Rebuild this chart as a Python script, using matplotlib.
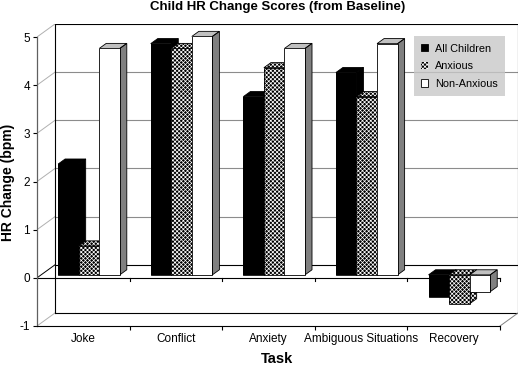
import matplotlib
matplotlib.use("Agg")
import matplotlib.pyplot as plt
from matplotlib.patches import Polygon, Patch

tasks = ["Joke", "Conflict", "Anxiety", "Ambiguous Situations", "Recovery"]
series = ["All Children", "Anxious", "Non-Anxious"]
all_children = [2.3, 4.8, 3.7, 4.2, -0.45]
anxious = [0.6, 4.7, 4.3, 3.7, -0.6]
non_anxious = [4.7, 4.95, 4.7, 4.8, -0.35]
y_ticks = [-1, 0, 1, 2, 3, 4, 5]

plt.rcParams['font.family'] = ['Liberation Sans', 'DejaVu Sans']
plt.rcParams['hatch.linewidth'] = 0.5

# fake 3D: depth of the box and where the bars sit in it (data units)
DX, DY = 0.194, 0.27
F0, F1 = 0.23, 0.62
W = 0.222
START = -0.272 - F0 * DX
HATCH = 'xxxxxxxx'

styles = [
    dict(face='black', side='black', top='black', hatch=None),
    dict(face='black', side='black', top='black', hatch=HATCH),
    dict(face='white', side='#808080', top='#c0c0c0', hatch=None),
]
values = [all_children, anxious, non_anxious]

n = len(tasks)
x_lo, x_hi = -0.5, n - 0.5
y_lo, y_hi = y_ticks[0], y_ticks[-1]

fig = plt.figure(figsize=(5.19, 3.65), dpi=100)
ax = fig.add_axes([37 / 519, 39 / 365, 481 / 519, 302 / 365])
ax.set_xlim(x_lo, x_hi + DX)
ax.set_ylim(y_lo, y_hi + DY)

# back wall gridlines
for v in y_ticks:
    col = 'black' if v in (0, y_lo, y_hi) else '#8c8c8c'
    ax.plot([x_lo + DX, x_hi + DX], [v + DY, v + DY], color=col, lw=0.8, zorder=1)
    # side wall lines
    ax.plot([x_lo, x_lo + DX], [v, v + DY], color='#b0b0b0' if v != 0 else 'black',
            lw=0.7, zorder=1)
ax.plot([x_lo + DX, x_lo + DX], [y_lo + DY, y_hi + DY], color='black', lw=0.8, zorder=1)
ax.plot([x_hi + DX, x_hi + DX], [y_lo + DY, y_hi + DY], color='black', lw=0.8, zorder=1)
ax.plot([x_hi, x_hi + DX], [y_lo, y_lo + DY], color='#808080', lw=0.7, zorder=1)

# front zero line with ticks
ax.plot([x_lo, x_hi], [0, 0], color='black', lw=0.8, zorder=2)
for b in range(1, n + 1):
    ax.plot([b - 0.5, b - 0.5], [0, -0.07], color='black', lw=0.8, zorder=2)


def bar3d(x0, v, st, z):
    x1 = x0 + W
    a0, b0 = F0 * DX, F0 * DY
    a1, b1 = F1 * DX, F1 * DY
    t = max(v, 0)
    side = [(x1 + a0, b0), (x1 + a1, b1), (x1 + a1, v + b1), (x1 + a0, v + b0)]
    top = [(x0 + a0, t + b0), (x0 + a1, t + b1), (x1 + a1, t + b1), (x1 + a0, t + b0)]
    for pts, col in [(side, st['side']), (top, st['top'])]:
        ax.add_patch(Polygon(pts, closed=True, facecolor=col, edgecolor='white',
                             hatch=st['hatch'], lw=0, zorder=z))
        ax.add_patch(Polygon(pts, closed=True, fill=False, edgecolor='black',
                             lw=0.6, zorder=z + 0.01))
    ax.bar(x0 + a0, v, width=W, bottom=b0, align='edge', color=st['face'],
           edgecolor='white', hatch=st['hatch'], lw=0, zorder=z + 0.02)
    ax.bar(x0 + a0, v, width=W, bottom=b0, align='edge', fill=False,
           edgecolor='black', lw=0.6, zorder=z + 0.03)


for i in range(n):
    for k, (vals, st) in enumerate(zip(values, styles)):
        bar3d(i + START + k * W, vals[i], st, 3 + k * 0.1)

# axes
for s in ['top', 'right']:
    ax.spines[s].set_visible(False)
ax.spines['left'].set_bounds(y_lo, y_hi)
ax.spines['left'].set_color('#606060')
ax.spines['bottom'].set_bounds(x_lo, x_hi)
ax.spines['left'].set_linewidth(0.9)
ax.spines['bottom'].set_linewidth(0.8)
ax.set_yticks(y_ticks)
ax.set_yticklabels([str(v) for v in y_ticks])
ax.set_xticks([b + 0.5 for b in range(n)])
ax.set_xticklabels([])
ax.set_xticks(range(n), minor=True)
ax.set_xticklabels(tasks, minor=True)
ax.tick_params(axis='both', which='major', length=3, width=0.8, labelsize=8.5, pad=2)
ax.tick_params(axis='x', which='minor', length=0, labelsize=8.5, pad=5)

fig.text(277.5 / 519, 1 - 7 / 365, "Child HR Change Scores (from Baseline)",
         ha='center', va='center', fontsize=9.5, fontweight='bold')
fig.text(8 / 519, 1 - 182 / 365, "HR Change (bpm)", rotation=90,
         ha='center', va='center', fontsize=10, fontweight='bold')
fig.text(277 / 519, 1 - 359 / 365, "Task", ha='center', va='center',
         fontsize=10.5, fontweight='bold')

handles = [Patch(facecolor='black', edgecolor='black', lw=0.6),
           Patch(facecolor='black', edgecolor='white', hatch=HATCH, lw=0),
           Patch(facecolor='white', edgecolor='black', lw=0.6)]
leg = ax.legend(handles, series, loc='upper right', bbox_to_anchor=(0.973, 0.960),
                borderaxespad=0, fontsize=7.8, frameon=True, fancybox=False,
                handlelength=0.65, handleheight=0.65, handletextpad=0.6,
                labelspacing=0.7, borderpad=0.7)
leg.get_frame().set_facecolor('#c8c8c8')
leg.get_frame().set_edgecolor('none')
leg.set_zorder(10)

fig.savefig("out.png", dpi=100)
